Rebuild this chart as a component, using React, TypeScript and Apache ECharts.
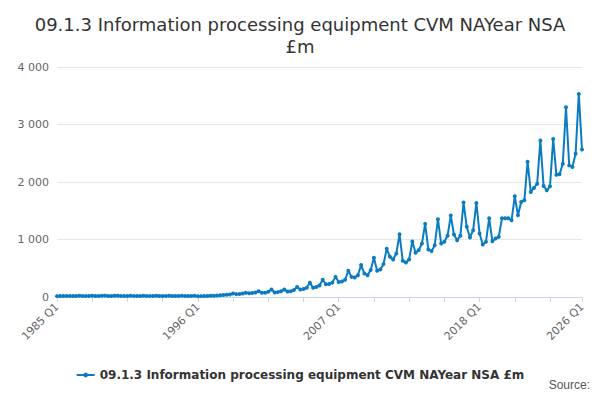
import React, { useEffect, useRef } from "react";
import * as echarts from "echarts";

const startYear = 1985;
const values: number[] = [
  15, 16, 17, 19, 16, 17, 18, 20, 17, 18, 18, 21, 18, 19, 20, 24,
  19, 19, 20, 23, 18, 19, 19, 22, 17, 18, 18, 21, 17, 18, 19, 22,
  18, 18, 19, 22, 17, 18, 19, 21, 16, 17, 18, 22,
  14, 15, 16, 18, 20, 22, 25, 30, 35, 38, 45, 60, 50, 52, 60, 75,
  65, 68, 78, 100, 72, 75, 90, 130, 80, 85, 100, 130, 95, 100, 120, 175,
  130, 140, 160, 250, 160, 175, 200, 300, 220, 225, 250, 350, 260, 270, 300, 457,
  350, 340, 380, 555, 410, 380, 470, 682, 457, 480, 572, 838, 700, 653, 757, 1092,
  630, 600, 653, 965, 769, 815, 930, 1272, 827, 798, 900, 1353, 930, 960, 1064, 1416,
  1087, 988, 1064, 1642, 1220, 1035, 1162, 1636, 1104, 913, 960, 1370, 970, 1017, 1046, 1370,
  1370, 1370, 1335, 1751, 1422, 1653, 1682, 2353, 1827, 1896, 1971, 2723, 1931, 1855, 1925, 2746,
  2127, 2133, 2318, 3300, 2289, 2260, 2491, 3532, 2566,
];
const categories = values.map((_, i) => `${startYear + Math.floor(i / 4)} Q${(i % 4) + 1}`);
const seriesName = "09.1.3 Information processing equipment CVM NAYear NSA £m";

export default function App() {
  const ref = useRef<HTMLDivElement | null>(null);

  useEffect(() => {
    if (!ref.current) return;
    const chart = echarts.init(ref.current, undefined, { renderer: "svg" });
    const last = categories.length - 1;
    chart.setOption({
      animation: false,
      textStyle: { fontFamily: "DejaVu Sans" },
      title: {
        text: "09.1.3 Information processing equipment CVM NAYear NSA\n£m",
        left: "center",
        top: 0,
        textStyle: { fontSize: 18, fontWeight: "normal", color: "#333", lineHeight: 22 },
      },
      grid: { left: 49, right: 10, top: 59, bottom: 95 },
      legend: {
        bottom: 6,
        left: "center",
        itemWidth: 18,
        itemHeight: 6,
        textStyle: { fontSize: 12, fontWeight: "bold", color: "#333" },
      },
      graphic: [
        { type: "text", right: 2, bottom: 1, style: { text: "Source:", fontSize: 12, fill: "#555" } },
      ],
      xAxis: {
        type: "category",
        data: categories,
        boundaryGap: false,
        axisLine: { lineStyle: { color: "#ccd6eb" } },
        axisTick: {
          lineStyle: { color: "#ccd6eb" },
          interval: (i: number) => i % 11 === 0 || i === last,
        },
        axisLabel: {
          interval: (i: number) => i % 44 === 0 || i === last,
          rotate: 45,
          color: "#666",
          fontSize: 11,
          showMaxLabel: true,
        },
      },
      yAxis: {
        type: "value",
        min: 0,
        max: 4000,
        interval: 1000,
        axisLabel: {
          color: "#666",
          fontSize: 11,
          formatter: (v: number) => String(v).replace(/\B(?=(\d{3})+(?!\d))/g, " "),
        },
        splitLine: { lineStyle: { color: "#e6e6e6" } },
      },
      series: [
        {
          name: seriesName,
          type: "line",
          data: values,
          symbol: "circle",
          symbolSize: 4,
          showAllSymbol: true,
          lineStyle: { width: 2, color: "#0b7cc1" },
          itemStyle: { color: "#0b7cc1" },
        },
      ],
    });
    return () => chart.dispose();
  }, []);

  return <div ref={ref} style={{ width: 584, height: 384 }} />;
}
